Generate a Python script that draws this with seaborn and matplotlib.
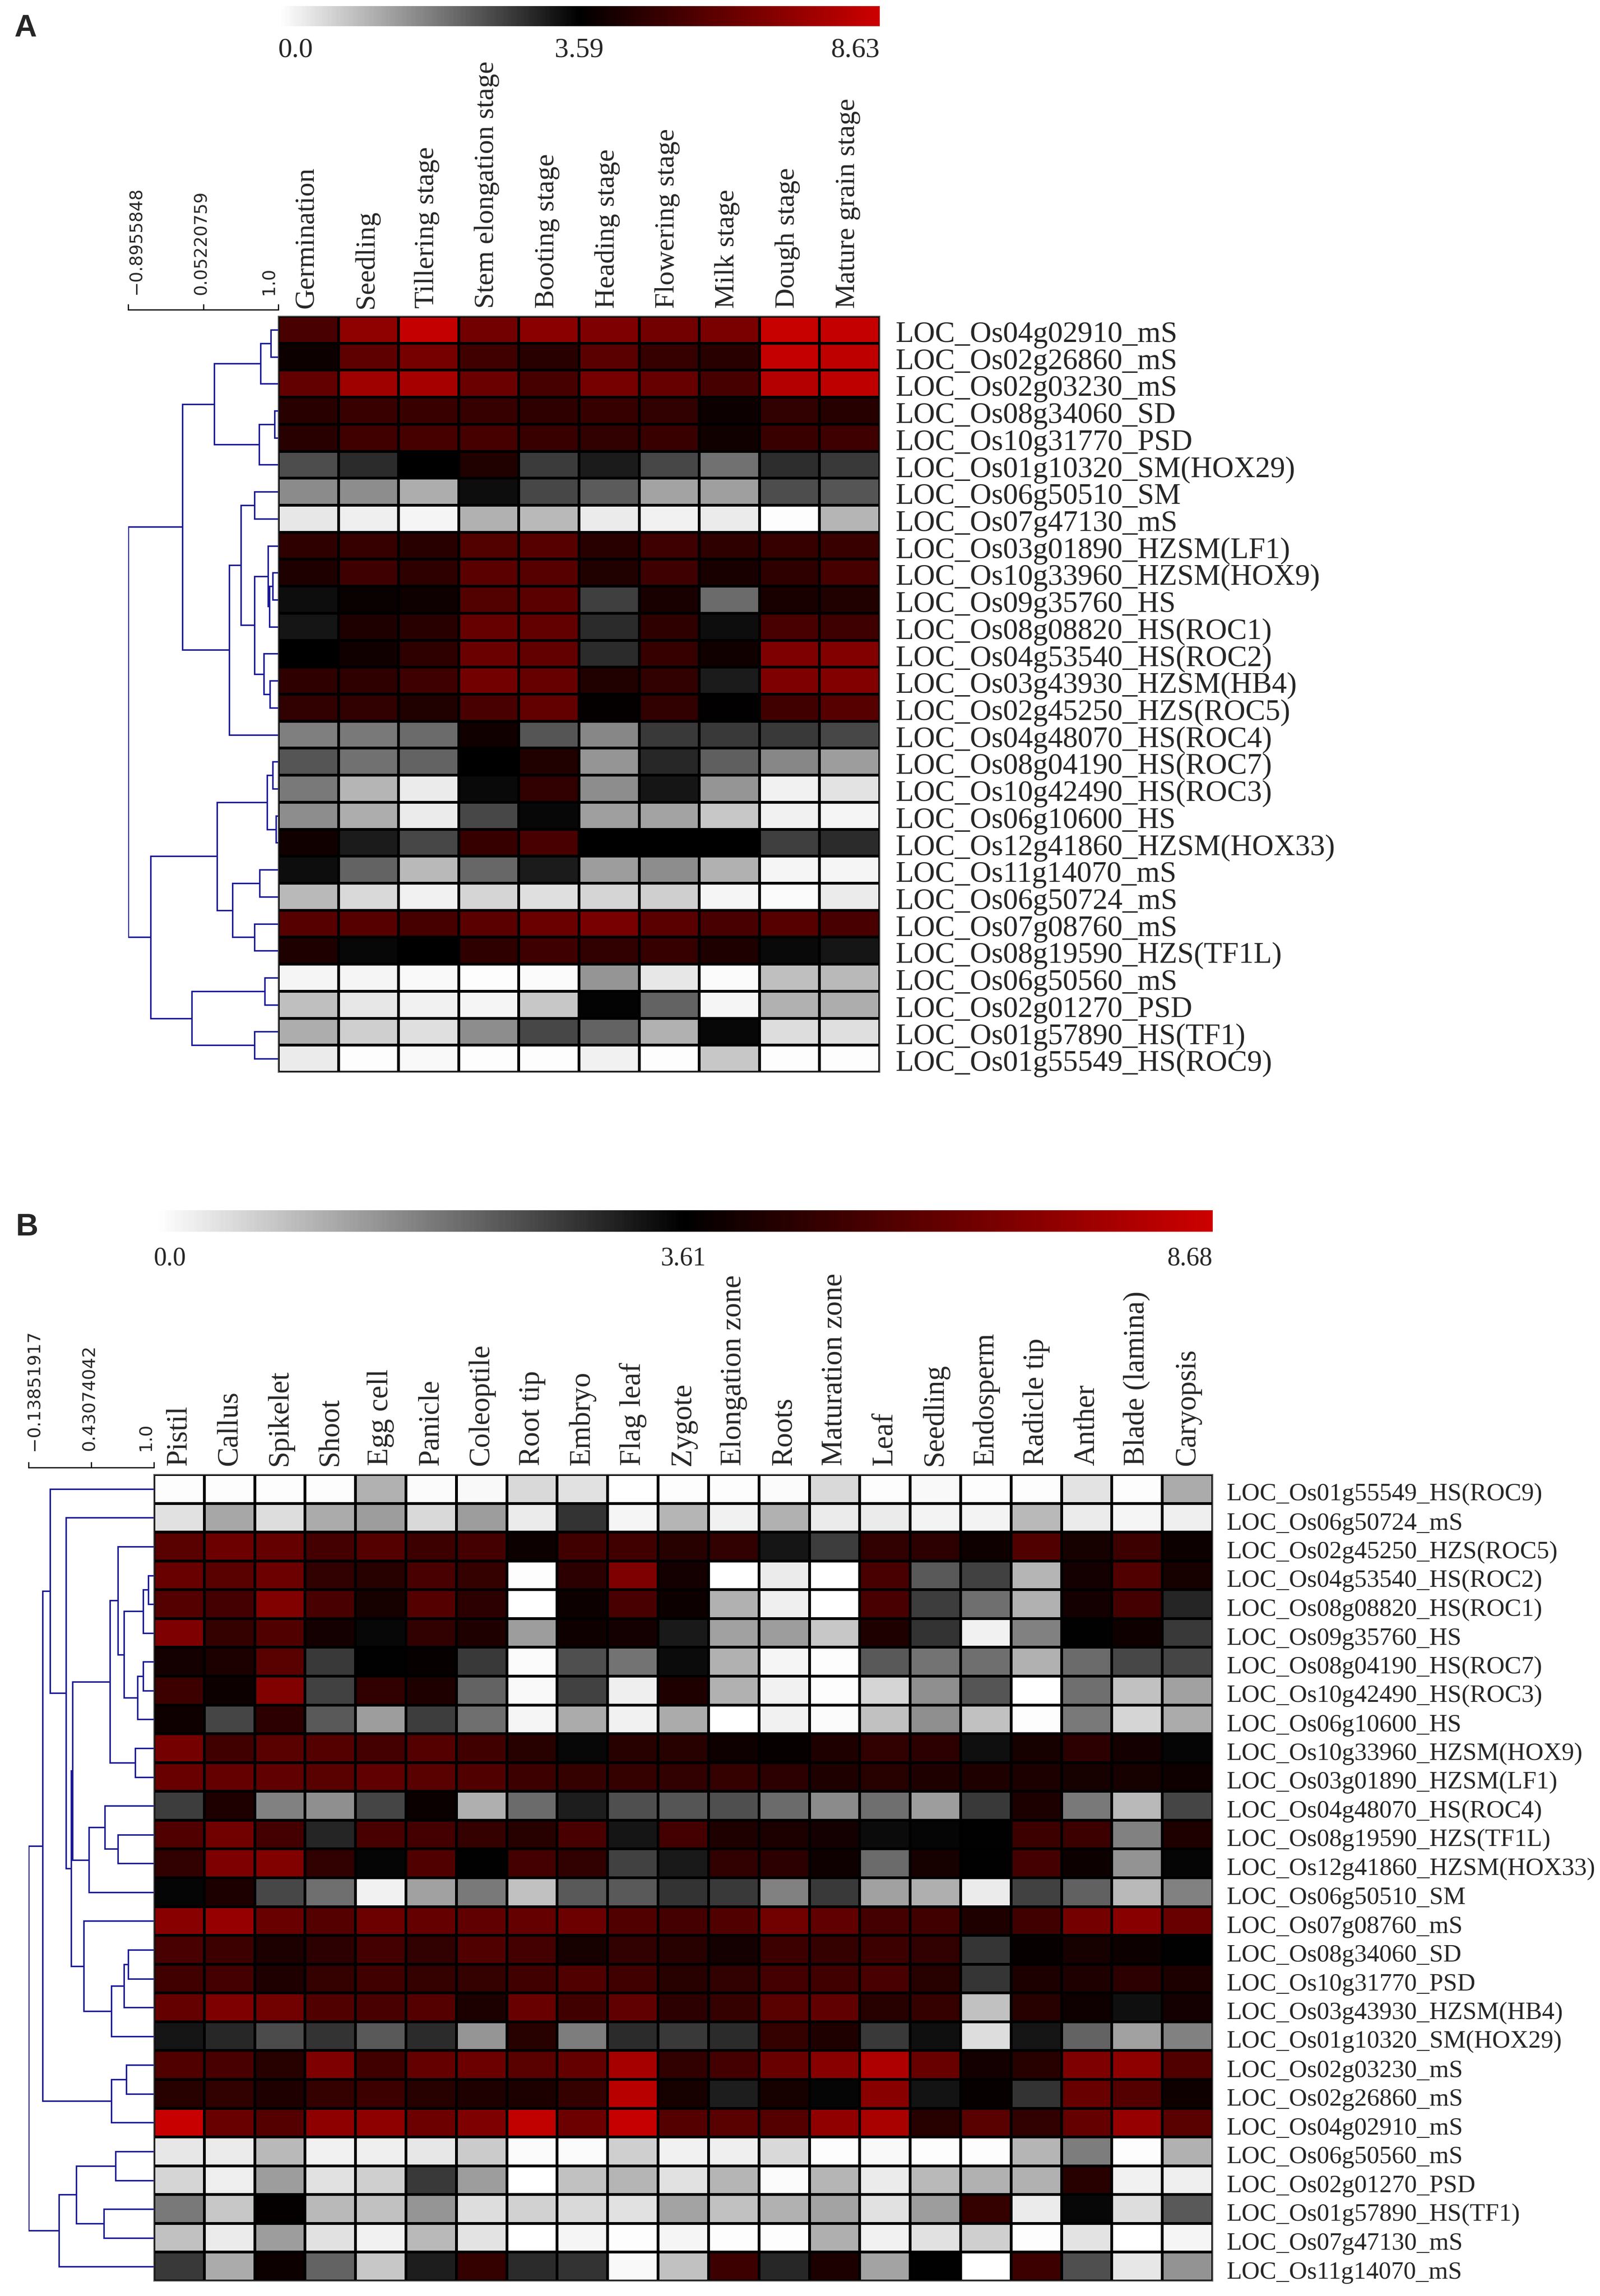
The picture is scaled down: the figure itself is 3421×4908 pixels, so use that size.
import matplotlib
matplotlib.use('Agg')
import matplotlib.pyplot as plt
from matplotlib.colors import LinearSegmentedColormap, TwoSlopeNorm
from matplotlib.transforms import ScaledTranslation
import seaborn as sns
import pandas as pd
import numpy as np

W, H = 3421, 4908

##panel A : stages
a_stages = ['Germination', 'Seedling', 'Tillering stage', 'Stem elongation stage', 'Booting stage',
            'Heading stage', 'Flowering stage', 'Milk stage', 'Dough stage', 'Mature grain stage']
a_genes = ['LOC_Os04g02910_mS', 'LOC_Os02g26860_mS', 'LOC_Os02g03230_mS', 'LOC_Os08g34060_SD',
           'LOC_Os10g31770_PSD', 'LOC_Os01g10320_SM(HOX29)', 'LOC_Os06g50510_SM', 'LOC_Os07g47130_mS',
           'LOC_Os03g01890_HZSM(LF1)', 'LOC_Os10g33960_HZSM(HOX9)', 'LOC_Os09g35760_HS',
           'LOC_Os08g08820_HS(ROC1)', 'LOC_Os04g53540_HS(ROC2)', 'LOC_Os03g43930_HZSM(HB4)',
           'LOC_Os02g45250_HZS(ROC5)', 'LOC_Os04g48070_HS(ROC4)', 'LOC_Os08g04190_HS(ROC7)',
           'LOC_Os10g42490_HS(ROC3)', 'LOC_Os06g10600_HS', 'LOC_Os12g41860_HZSM(HOX33)',
           'LOC_Os11g14070_mS', 'LOC_Os06g50724_mS', 'LOC_Os07g08760_mS', 'LOC_Os08g19590_HZS(TF1L)',
           'LOC_Os06g50560_mS', 'LOC_Os02g01270_PSD', 'LOC_Os01g57890_HS(TF1)', 'LOC_Os01g55549_HS(ROC9)']
a_values = [
    [5.4, 7.1, 8.4, 6.4, 7.0, 6.7, 6.4, 6.6, 8.5, 8.4],
    [3.9, 5.9, 6.5, 5.2, 4.6, 5.8, 4.9, 4.6, 8.4, 8.3],
    [6.0, 7.5, 7.7, 6.2, 5.3, 6.5, 6.1, 5.3, 8.0, 8.3],
    [4.6, 5.0, 5.0, 4.9, 4.7, 4.9, 4.8, 3.9, 4.8, 4.5],
    [4.6, 5.2, 5.3, 5.3, 5.0, 4.8, 5.0, 4.0, 5.0, 5.1],
    [2.5, 3.0, 3.6, 4.4, 2.75, 3.2, 2.6, 2.0, 2.95, 2.8],
    [1.65, 1.6, 1.15, 3.4, 2.6, 2.3, 1.3, 1.35, 2.5, 2.4],
    [0.35, 0.25, 0.15, 1.1, 1.0, 0.3, 0.2, 0.3, 0.05, 1.05],
    [4.7, 4.9, 4.6, 5.6, 5.7, 4.6, 5.1, 4.7, 4.9, 5.0],
    [4.3, 5.1, 4.7, 5.8, 5.7, 4.4, 5.1, 4.2, 4.7, 5.3],
    [3.4, 3.8, 3.95, 5.6, 5.8, 2.7, 4.2, 2.1, 4.2, 4.4],
    [3.3, 4.3, 4.6, 6.1, 6.0, 3.0, 4.7, 3.4, 5.4, 5.1],
    [3.6, 4.0, 4.7, 6.2, 6.0, 3.0, 4.9, 4.0, 6.7, 6.8],
    [4.7, 4.7, 5.1, 6.4, 6.1, 4.4, 4.8, 3.2, 6.7, 6.8],
    [4.8, 4.8, 4.4, 5.4, 6.0, 3.7, 4.8, 3.65, 5.2, 5.7],
    [1.8, 1.9, 2.1, 4.0, 2.4, 1.7, 2.8, 2.8, 2.8, 2.6],
    [2.4, 2.0, 2.2, 3.6, 4.4, 1.5, 3.05, 2.25, 1.7, 1.4],
    [1.9, 1.05, 0.3, 3.45, 4.8, 1.6, 3.3, 1.5, 0.2, 0.4],
    [1.6, 1.15, 0.3, 2.6, 3.5, 1.35, 1.3, 0.8, 0.2, 0.15],
    [4.0, 3.2, 2.6, 4.9, 5.4, 3.6, 3.6, 3.6, 2.7, 3.0],
    [3.4, 2.2, 1.0, 2.15, 3.2, 1.4, 1.6, 1.1, 0.15, 0.15],
    [1.0, 0.55, 0.2, 0.6, 0.45, 0.6, 0.7, 0.15, 0.07, 0.3],
    [5.7, 5.7, 5.3, 5.8, 6.2, 6.55, 5.8, 5.4, 5.7, 5.4],
    [4.3, 3.5, 3.6, 4.7, 5.1, 4.8, 4.9, 4.3, 3.45, 3.3],
    [0.15, 0.15, 0.1, 0.05, 0.07, 1.5, 0.35, 0.07, 0.9, 1.0],
    [0.9, 0.35, 0.2, 0.15, 0.8, 3.55, 2.2, 0.15, 1.1, 1.15],
    [1.15, 0.7, 0.45, 1.6, 2.6, 2.2, 1.1, 3.5, 0.5, 0.45],
    [0.3, 0.05, 0.1, 0.05, 0.05, 0.2, 0.03, 0.8, 0.03, 0.05],
]
##tree of panel A, new node = 28, 29, ...
a_left = [0, 28, 3, 30, 29, 6, 9, 34, 8, 13, 12, 36, 33, 40, 32, 16, 18, 43, 20, 22, 46, 45, 24, 26, 50, 49, 42]
a_right = [1, 2, 4, 5, 31, 7, 10, 11, 35, 14, 37, 38, 39, 15, 41, 17, 19, 44, 21, 23, 47, 48, 25, 27, 51, 52, 53]
a_height = [.049, .117, .026, .128, .426, .158, .036, .059, .070, .057, .098, .158, .249, .328, .638,
            .038, .015, .075, .125, .158, .306, .408, .091, .158, .577, .849, 1.0]
a_scale = ['\u22120.8955848', '0.05220759', '1.0']
a_bar = ['0.0', '3.59', '8.63']
a_mid, a_max = 3.59, 8.63

##panel B : tissues
b_tissues = ['Pistil', 'Callus', 'Spikelet', 'Shoot', 'Egg cell', 'Panicle', 'Coleoptile', 'Root tip',
             'Embryo', 'Flag leaf', 'Zygote', 'Elongation zone', 'Roots', 'Maturation zone', 'Leaf',
             'Seedling', 'Endosperm', 'Radicle tip', 'Anther', 'Blade (lamina)', 'Caryopsis']
b_genes = ['LOC_Os01g55549_HS(ROC9)', 'LOC_Os06g50724_mS', 'LOC_Os02g45250_HZS(ROC5)', 'LOC_Os04g53540_HS(ROC2)',
           'LOC_Os08g08820_HS(ROC1)', 'LOC_Os09g35760_HS', 'LOC_Os08g04190_HS(ROC7)', 'LOC_Os10g42490_HS(ROC3)',
           'LOC_Os06g10600_HS', 'LOC_Os10g33960_HZSM(HOX9)', 'LOC_Os03g01890_HZSM(LF1)', 'LOC_Os04g48070_HS(ROC4)',
           'LOC_Os08g19590_HZS(TF1L)', 'LOC_Os12g41860_HZSM(HOX33)', 'LOC_Os06g50510_SM', 'LOC_Os07g08760_mS',
           'LOC_Os08g34060_SD', 'LOC_Os10g31770_PSD', 'LOC_Os03g43930_HZSM(HB4)', 'LOC_Os01g10320_SM(HOX29)',
           'LOC_Os02g03230_mS', 'LOC_Os02g26860_mS', 'LOC_Os04g02910_mS', 'LOC_Os06g50560_mS',
           'LOC_Os02g01270_PSD', 'LOC_Os01g57890_HS(TF1)', 'LOC_Os07g47130_mS', 'LOC_Os11g14070_mS']
b_values = [
    [.05, .05, .05, .05, 1.1, .07, .1, .55, .45, 0, .05, .05, .07, .55, .05, .1, .03, .05, .4, .05, 1.2],
    [.45, 1.25, .5, 1.2, 1.4, .55, 1.4, .3, 2.9, .15, 1.05, .2, 1.1, .3, .3, .17, .17, 1.0, .3, .15, .25],
    [5.8, 6.3, 6.1, 5.3, 5.7, 5.1, 5.3, 3.9, 5.2, 5.2, 4.6, 4.8, 3.3, 2.75, 4.8, 4.7, 4.0, 5.6, 4.2, 5.1, 3.9],
    [6.2, 5.8, 6.3, 4.8, 4.6, 5.4, 4.9, .05, 4.7, 6.7, 4.1, 0, .3, 0, 5.4, 2.35, 2.7, 1.05, 4.1, 5.6, 4.2],
    [5.7, 5.3, 6.8, 5.4, 4.2, 5.7, 4.7, 0, 3.9, 5.4, 3.9, 1.1, .25, 0, 5.4, 2.75, 2.05, 1.1, 4.1, 5.3, 3.1],
    [6.7, 4.9, 5.6, 4.1, 3.5, 4.8, 4.4, 1.4, 4.0, 4.1, 3.25, 1.35, 1.4, .8, 4.4, 2.9, .2, 1.8, 3.6, 4.0, 2.8],
    [4.1, 4.3, 5.8, 2.8, 3.6, 3.8, 2.8, .07, 2.5, 2.0, 3.45, 1.1, .15, .05, 2.35, 2.0, 2.05, 1.1, 2.1, 2.6, 2.65],
    [5.1, 3.9, 6.8, 2.7, 4.8, 4.4, 2.2, .1, 2.7, .25, 4.4, 1.1, .2, .05, .6, 1.6, 2.4, 0, 2.05, .9, 1.35],
    [4.0, 2.65, 4.7, 2.35, 1.4, 2.75, 2.05, .15, 1.2, .2, 1.2, 0, .2, .07, .9, 1.6, .9, .05, 1.9, .6, 1.2],
    [6.5, 5.2, 5.8, 5.7, 5.3, 5.7, 5.2, 4.6, 3.5, 4.6, 4.6, 4.0, 3.8, 4.4, 4.8, 4.7, 3.4, 4.2, 4.7, 4.1, 3.55],
    [6.2, 6.1, 6.0, 5.8, 6.0, 5.8, 5.6, 5.1, 4.9, 4.9, 4.8, 4.9, 4.7, 4.4, 4.6, 4.4, 4.4, 4.3, 4.2, 4.2, 4.0],
    [2.75, 4.4, 1.8, 1.6, 2.65, 3.85, 1.15, 2.1, 3.2, 2.5, 2.4, 2.5, 2.1, 1.65, 2.05, 1.4, 2.8, 4.3, 1.9, 1.0, 2.65],
    [5.6, 6.4, 5.3, 3.1, 5.4, 5.3, 4.9, 4.6, 5.4, 3.3, 5.3, 4.4, 4.3, 4.1, 3.45, 3.55, 3.6, 5.1, 5.1, 1.8, 4.4],
    [4.8, 6.7, 6.8, 4.8, 3.55, 5.6, 3.6, 5.3, 4.8, 2.7, 3.25, 4.8, 4.7, 4.0, 2.1, 4.2, 3.6, 5.3, 3.9, 1.55, 3.55],
    [3.55, 4.3, 2.6, 2.05, .2, 1.35, 1.9, .9, 2.35, 2.35, 2.9, 2.8, 1.8, 2.8, 1.35, 1.15, .3, 2.7, 2.25, 1.0, 1.8],
    [7.0, 7.3, 6.2, 5.7, 6.3, 6.1, 6.0, 6.1, 6.3, 5.6, 5.3, 5.6, 6.4, 6.0, 5.3, 5.2, 4.4, 5.2, 6.5, 7.0, 6.2],
    [5.4, 5.1, 4.3, 4.7, 5.3, 4.8, 5.6, 5.3, 4.2, 4.8, 4.6, 4.1, 5.1, 4.9, 5.1, 4.8, 2.85, 3.8, 4.2, 3.9, 3.6],
    [5.2, 5.3, 4.4, 4.9, 5.2, 4.9, 4.9, 5.2, 5.6, 5.2, 4.6, 4.8, 5.3, 5.2, 5.4, 4.6, 2.85, 4.3, 4.4, 4.7, 4.3],
    [6.1, 6.7, 6.4, 5.6, 5.4, 5.7, 4.3, 6.2, 5.2, 6.0, 4.7, 4.9, 5.8, 6.0, 4.6, 4.9, .9, 4.6, 4.0, 3.4, 4.1],
    [3.3, 3.05, 2.55, 2.9, 2.35, 3.0, 1.5, 4.6, 1.85, 3.0, 2.8, 3.0, 4.9, 4.4, 2.8, 3.4, .5, 3.3, 2.2, 1.35, 1.8],
    [5.6, 5.4, 4.6, 6.7, 5.2, 6.1, 6.3, 5.8, 6.1, 7.7, 4.8, 5.3, 6.2, 7.0, 7.9, 6.2, 4.1, 4.6, 6.7, 7.1, 5.6],
    [4.6, 4.8, 4.4, 4.9, 5.1, 4.6, 4.4, 4.3, 4.9, 8.2, 4.2, 3.2, 4.2, 3.55, 7.0, 3.35, 3.8, 2.9, 6.2, 5.7, 4.0],
    [8.6, 6.2, 5.7, 7.1, 7.1, 6.3, 6.7, 8.4, 6.3, 8.5, 5.7, 5.8, 5.7, 7.2, 7.8, 4.6, 5.8, 4.8, 6.1, 7.3, 5.8],
    [.35, .3, 1.0, .2, .25, .35, .75, .07, .07, .7, .2, .25, .55, .05, .1, .05, .05, 1.05, 1.85, .05, 1.1],
    [.6, .25, 1.4, .45, .7, 2.8, 1.4, 0, .9, 1.05, .45, 1.05, .07, 1.05, .3, 1.0, 1.1, 1.1, 4.6, .2, .25],
    [1.9, .8, 3.7, 1.0, .9, 1.5, .5, .65, .55, .45, 1.3, .9, 1.1, 1.3, .45, 1.4, 4.9, .3, 3.5, .5, 2.35],
    [.9, .3, 1.4, .45, .2, 1.0, .4, 0, .15, .03, .15, .05, .05, 1.15, .2, .45, .7, .05, .4, 0, .15],
    [2.8, 1.2, 3.9, 2.2, .8, 3.2, 4.9, 3.0, 2.9, .1, .9, 5.1, 3.05, 4.3, 1.3, 3.6, 0, 5.1, 2.5, .35, 1.55],
]
b_left = [3, 28, 6, 30, 29, 2, 9, 33, 12, 11, 37, 35, 16, 40, 41, 15, 39, 1, 0, 20, 47, 46, 23, 25, 50, 52, 49]
b_right = [4, 5, 7, 8, 31, 32, 10, 34, 13, 36, 14, 38, 17, 18, 19, 42, 43, 44, 45, 21, 22, 48, 24, 26, 51, 27, 53]
b_height = [.046, .087, .087, .129, .237, .286, .149, .349, .286, .39, .519, .651, .207, .237, .34, .56,
            .66, .701, .83, .22, .34, .888, .307, .398, .618, .759, 1.0]
b_scale = ['\u22120.13851917', '0.43074042', '1.0']
b_bar = ['0.0', '3.61', '8.68']
b_mid, b_max = 3.61, 8.68

sns.set_theme(style='white')
plt.rcParams['font.family'] = ['Liberation Serif', 'DejaVu Serif']
white_black_red = LinearSegmentedColormap.from_list('wbr', ['#ffffff', '#000000', '#cc0000'])
NAVY = '#1a1a96'

fig = plt.figure(figsize=(W/100, H/100), dpi=100, facecolor='white')

def px_axes(x0, y0, x1, y1):
    return fig.add_axes([x0/W, 1-y1/H, (x1-x0)/W, (y1-y0)/H])

def nudge(labels, dx, dy):
    ##move text by some pixels, dy positive is down
    for t in labels:
        t.set_transform(t.get_transform() + ScaledTranslation(dx/100, -dy/100, fig.dpi_scale_trans))

def draw_tree(ax, n, left, right, height, color=NAVY):
    ##y of a leaf is the middle of its row, x is the merge height
    ypos = {i: i+.5 for i in range(n)}
    xpos = {i: 0. for i in range(n)}
    for k, (l, r, d) in enumerate(zip(left, right, height)):
        ax.plot([xpos[l], d, d, xpos[r]], [ypos[l], ypos[l], ypos[r], ypos[r]],
                color=color, lw=2.3, solid_joinstyle='miter')
        ypos[n+k] = (ypos[l]+ypos[r])/2
        xpos[n+k] = d
    ax.set_xlim(1, 0)
    ax.set_ylim(n, 0)
    ax.axis('off')

def panel(letter, letter_xy, box, bar_box, bar_text_y, tree_x0, scale_y, values, genes, columns,
          left, right, height, scale_labels, scale_dx, scale_dy, bar_labels, mid, vmax,
          fs_row, fs_col, fs_bar, fs_scale, pad_row, pad_col, row_dy, col_dx):
    x0, y0, x1, y1 = box
    df = pd.DataFrame(values, index=genes, columns=columns)
    ax = px_axes(x0, y0, x1, y1)
    sns.heatmap(df, ax=ax, cmap=white_black_red, norm=TwoSlopeNorm(vcenter=mid, vmin=0, vmax=vmax),
                cbar=False, linewidths=3.2, linecolor='black', xticklabels=True, yticklabels=True)
    ax.xaxis.tick_top()
    ax.yaxis.tick_right()
    ax.tick_params(axis='x', length=0, pad=pad_col, labelsize=fs_col, rotation=90)
    ax.tick_params(axis='y', length=0, pad=pad_row, labelsize=fs_row, rotation=0)
    ax.set_xlabel('')
    ax.set_ylabel('')
    nudge(ax.get_yticklabels(), 0, row_dy)
    nudge(ax.get_xticklabels(), col_dx, 0)
    for s in ax.spines.values():
        s.set_visible(True)
        s.set_color('#555555')
        s.set_linewidth(1.5)

    ##colour key
    bx = px_axes(*bar_box)
    sns.heatmap(np.linspace(0, 1, 400)[None, :], ax=bx, cmap=white_black_red, vmin=0, vmax=1, cbar=False,
                xticklabels=False, yticklabels=False)
    for t, xx, ha in zip(bar_labels, [0, .5, 1], ['left', 'center', 'right']):
        fig.text((bar_box[0]+xx*(bar_box[2]-bar_box[0]))/W, 1-bar_text_y/H, t, ha=ha, va='center', fontsize=fs_bar)

    ##row tree
    tx = px_axes(tree_x0, y0, x0, y1)
    draw_tree(tx, len(genes), left, right, height)

    ##similarity scale above the tree
    sx = px_axes(tree_x0, scale_y, x0, scale_y+1)
    sx.set_xlim(1, 0)
    sx.set_yticks([])
    sx.set_xticks([1, .5, 0])
    sx.set_xticklabels([])
    sx.xaxis.tick_top()
    sx.tick_params(axis='x', direction='out', length=8.5, width=1.8, color='black')
    for name, s in sx.spines.items():
        s.set_visible(name == 'top')
        s.set_color('black')
        s.set_linewidth(1.8)
    for t, xx, dx in zip(scale_labels, [1, .5, 0], scale_dx):
        sx.annotate(t, (xx, 1), xycoords=('data', 'axes fraction'), xytext=(dx, scale_dy), textcoords='offset pixels',
                    rotation=90, ha='center', va='bottom', fontsize=fs_scale, family='DejaVu Sans')

    fig.text(letter_xy[0]/W, 1-letter_xy[1]/H, letter, fontsize=48, fontweight='bold',
             family='Liberation Sans', ha='left', va='center')

panel('A', (30, 61), (595, 676, 1881, 2292), (595, 13, 1881, 56), 107, 274, 662, a_values, a_genes, a_stages,
      a_left, a_right, a_height, a_scale, [17, -4, -20], 32, a_bar, a_mid, a_max,
      46, 43, 43, 26.5, 24, 12, 4, -4)
panel('B', (33, 2624), (329, 3152, 2593, 4876), (329, 2587, 2593, 2633), 2690, 61, 3137, b_values, b_genes, b_tissues,
      b_left, b_right, b_height, b_scale, [13, -3, -17], 36, b_bar, b_mid, b_max,
      38.5, 45, 40, 27, 21, 14, 7, 0)

plt.savefig('out.png', dpi=100)
